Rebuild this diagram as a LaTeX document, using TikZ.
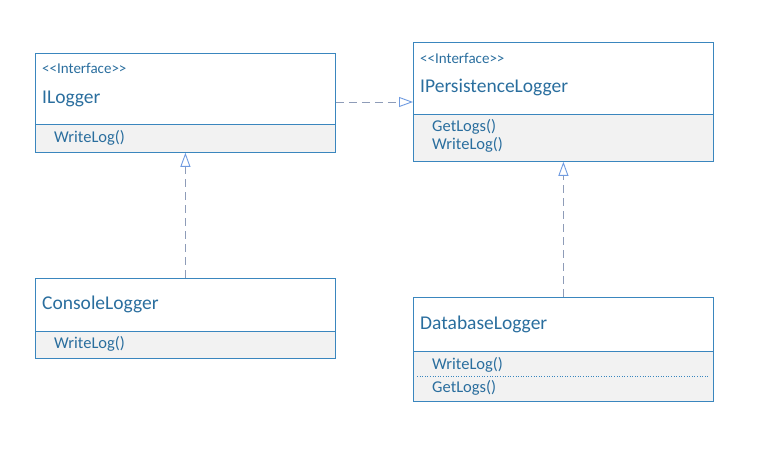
\documentclass[tikz,border=0pt]{standalone}
\usepackage{fontspec}
\setmainfont{Carlito}[Ligatures=TeXOff]
\usetikzlibrary{arrows.meta}
\definecolor{txtc}{HTML}{2A6E9E}
\definecolor{boxc}{HTML}{3A86BE}
\definecolor{compc}{HTML}{F2F2F2}
\definecolor{linec}{HTML}{8E9CB8}
\definecolor{headc}{HTML}{6F9BE0}
\newcommand{\titlefont}{\fontsize{19.5bp}{21bp}\selectfont}
\newcommand{\methfont}{\fontsize{16.5bp}{18bp}\selectfont}
\newcommand{\stereofont}{\fontsize{15bp}{16bp}\selectfont}
\tikzset{
  box/.style={draw=boxc, line width=0.8bp, inner sep=0pt, anchor=north west, minimum width=300bp},
  comp/.style={box, fill=compc},
  ttl/.style={text=txtc, font=\titlefont, anchor=base west, inner sep=0pt},
  meth/.style={text=txtc, font=\methfont, anchor=base west, inner sep=0pt},
  stereo/.style={text=txtc, font=\stereofont, anchor=base west, inner sep=0pt},
  realize/.style={draw=linec, line width=0.9bp, dash pattern=on 8bp off 5bp,
    -{Triangle[open, length=14bp, width=10bp, color=headc, line width=0.9bp]}},
  sep/.style={draw=boxc, line width=0.6bp, dotted}
}
\begin{document}
\begin{tikzpicture}[x=1bp,y=-1bp]
\useasboundingbox (0,0) rectangle (767,454);
% ILogger
\node[box, minimum height=71bp] (ilT) at (35,53) {};
\node[comp, minimum height=28bp] (ilC) at (35,124) {};
\node[stereo] (ilS) at (42,74) {<{}<Interface>{}>};
\node[ttl] (ilN) at (42,104) {ILogger};
\node[meth] (ilM1) at (54,143) {WriteLog()};
% IPersistenceLogger
\node[box, minimum height=72bp] (ipT) at (413,42) {};
\node[comp, minimum height=47bp] (ipC) at (413,114) {};
\node[stereo] (ipS) at (420,63.3) {<{}<Interface>{}>};
\node[ttl] (ipN) at (420,92.3) {IPersistenceLogger};
\node[meth] (ipM1) at (432,131.7) {GetLogs()};
\node[meth] (ipM2) at (432,150) {WriteLog()};
% ConsoleLogger
\node[box, minimum height=53bp] (clT) at (35,278) {};
\node[comp, minimum height=27bp] (clC) at (35,331) {};
\node[ttl] (clN) at (42,310) {ConsoleLogger};
\node[meth] (clM1) at (54,349) {WriteLog()};
% DatabaseLogger
\node[box, minimum height=54bp] (dbT) at (413,297) {};
\node[comp, minimum height=50bp] (dbC) at (413,351) {};
\node[ttl] (dbN) at (420,329.3) {DatabaseLogger};
\node[meth] (dbM1) at (432,370) {WriteLog()};
\node[meth] (dbM2) at (432,392.7) {GetLogs()};
\coordinate (dsA) at (417,376);
\coordinate (dsB) at (709,376);
\draw[sep] (dsA) -- (dsB);
% realizations
\draw[realize] (ilT.east |- 0,102) -- (ipT.west |- 0,102);
\draw[realize] (clT.north) -- (ilC.south);
\draw[realize] (dbT.north) -- (ipC.south);
\end{tikzpicture}
\end{document}
